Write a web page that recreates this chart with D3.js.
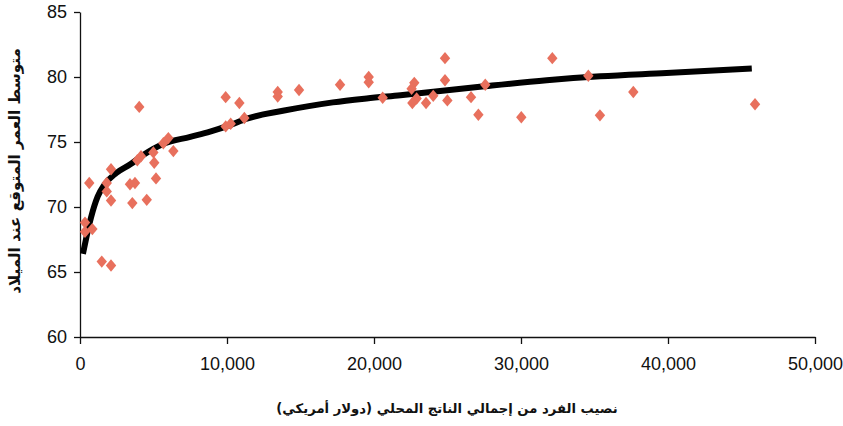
<!DOCTYPE html>
<html>
<head>
<meta charset="utf-8">
<script src="https://cdn.jsdelivr.net/npm/d3@7"></script>
<style>
  html, body { margin: 0; padding: 0; background: #fff; }
  svg { display: block; }
  .tick text { font-family: "Liberation Sans", "Open Sans", sans-serif; font-size: 18px; fill: #111; }
  .title { font-family: "DejaVu Sans", sans-serif; font-weight: bold; fill: #111; }
</style>
</head>
<body>
<script>
// GDP per capita (US$) for each country
const gdp = [340, 340, 840, 630, 1480, 2110, 1820, 1820, 2110, 2110, 3400, 3740, 3560, 4030, 3900, 4150, 4540, 4990, 5050, 5170, 5670, 6010, 6350,
  9910, 9910, 10250, 10840, 11180, 13450, 13450, 14900, 17690, 19640, 19640, 20590, 22740, 22560, 22900, 22610, 23540, 24030,
  24830, 24830, 24990, 26600, 27100, 27570, 30020, 32130, 34580, 35370, 37640, 45920];
// Life expectancy at birth (years)
const lifeExp = [68.8, 68.1, 68.3, 71.85, 65.8, 65.5, 71.85, 71.2, 70.5, 72.9, 71.75, 71.85, 70.3, 77.7, 73.6, 73.9, 70.55, 74.2, 73.4, 72.2, 74.9, 75.3, 74.3,
  78.45, 76.2, 76.4, 78.0, 76.85, 78.85, 78.5, 79.0, 79.4, 80.0, 79.6, 78.4, 79.55, 79.1, 78.35, 78.0, 78.0, 78.55,
  81.45, 79.75, 78.2, 78.45, 77.1, 79.4, 76.9, 81.45, 80.1, 77.05, 78.85, 77.9];
// Trend curve
const trendGdp = [200, 750, 1200, 1650, 2450, 3450, 4300, 5650, 7500, 8850, 10200, 11350, 13800, 17200, 19500, 21800, 27200, 31750, 35400, 39900, 45700];
const trendLife = [66.4, 69.2, 70.8, 71.7, 72.6, 73.3, 74.0, 74.85, 75.4, 75.8, 76.3, 76.8, 77.4, 78.05, 78.35, 78.6, 79.25, 79.75, 80.05, 80.3, 80.65];

const xTicks = [0, 10000, 20000, 30000, 40000, 50000];
const yTicks = [60, 65, 70, 75, 80, 85];
const xTitle = "نصيب الفرد من إجمالي الناتج المحلي (دولار أمريكي)";
const yTitle = "متوسط العمر المتوقع عند الميلاد";

const W = 843, H = 426;
const svg = d3.select("body").append("svg").attr("width", W).attr("height", H);

const x = d3.scaleLinear().domain([0, 50000]).range([80, 815]);
const y = d3.scaleLinear().domain([60, 85]).range([337, 12]);

// axes
const xAxis = d3.axisBottom(x).tickValues(xTicks).tickFormat(d3.format(",")).tickSize(7).tickSizeOuter(0).tickPadding(13);
const yAxis = d3.axisLeft(y).tickValues(yTicks).tickSize(6).tickSizeOuter(0).tickPadding(7);

const gx = svg.append("g").attr("transform", `translate(0,${y(60)})`).call(xAxis);
const gy = svg.append("g").attr("transform", `translate(${x(0)},0)`).call(yAxis);
[gx, gy].forEach(g => {
  g.select(".domain").attr("stroke", "#111").attr("stroke-width", 1.3);
  g.selectAll(".tick line").attr("stroke", "#111").attr("stroke-width", 1.3);
});

// trend line
const line = d3.line().x((d, i) => x(trendGdp[i])).y((d, i) => y(trendLife[i])).curve(d3.curveMonotoneX);
svg.append("path").datum(trendGdp).attr("d", line)
  .attr("fill", "none").attr("stroke", "#000").attr("stroke-width", 6);

// diamonds
svg.append("g").selectAll("path").data(gdp).join("path")
  .attr("transform", (d, i) => `translate(${x(d)},${y(lifeExp[i])})`)
  .attr("d", "M0,-6.2L5.2,0L0,6.2L-5.2,0Z")
  .attr("fill", "#e8705d");

// titles
svg.append("text").attr("class", "title")
  .attr("x", 447).attr("y", 413).attr("text-anchor", "middle")
  .attr("font-size", 13.2).attr("direction", "rtl")
  .text(xTitle);
svg.append("text").attr("class", "title")
  .attr("transform", `translate(20,${171}) rotate(-90)`).attr("text-anchor", "middle")
  .attr("font-size", 15.2).attr("direction", "rtl")
  .text(yTitle);
</script>
</body>
</html>
